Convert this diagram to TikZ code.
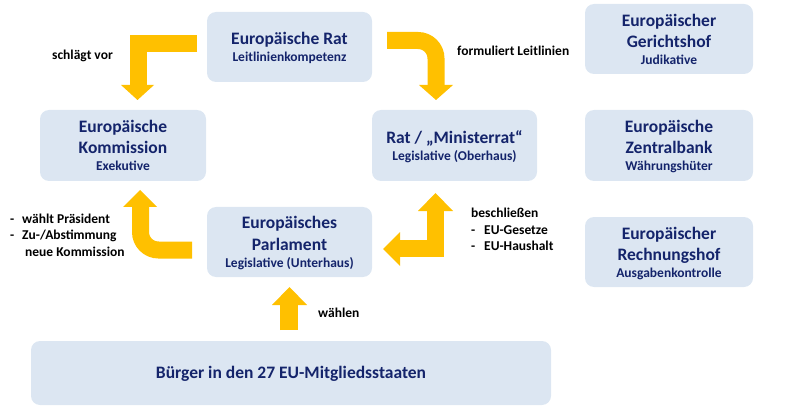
\documentclass[tikz,border=0pt]{standalone}
\usepackage{fontspec}
\setmainfont{Carlito}
\definecolor{boxfill}{HTML}{DCE6F2}
\definecolor{navy}{HTML}{14246B}
\definecolor{arrowc}{HTML}{FFC000}
\tikzset{
  box/.style={fill=boxfill, rounded corners=9pt, inner sep=0pt, draw=none},
  ttl/.style={anchor=base, inner sep=0pt, font=\bfseries\fontsize{17.5}{21}\selectfont, text=navy},
  sub/.style={anchor=base, inner sep=0pt, font=\bfseries\fontsize{13.5}{16}\selectfont, text=navy},
  lbl/.style={anchor=base west, inner sep=0pt, font=\bfseries\fontsize{13.5}{16}\selectfont, text=black},
  shaft/.style={draw=arrowc, line width=17pt, line cap=butt},
  head/.style={fill=arrowc}
}
\begin{document}
\begin{tikzpicture}[x=1pt,y=-1pt]
\useasboundingbox (0,0) rectangle (800,406);
% boxes
\node[box, minimum width=165pt, minimum height=70pt] (rat) at (289.5,47) {};
\node[box, minimum width=166pt, minimum height=71pt] (kom) at (123,145.5) {};
\node[box, minimum width=165pt, minimum height=71pt] (min) at (454.5,145.5) {};
\node[box, minimum width=168pt, minimum height=70pt] (ger) at (669,39) {};
\node[box, minimum width=168pt, minimum height=71pt] (ezb) at (669,145.5) {};
\node[box, minimum width=168pt, minimum height=70pt] (rh) at (669,252) {};
\node[box, minimum width=165pt, minimum height=70pt] (ep) at (289.5,242) {};
\node[box, minimum width=520pt, minimum height=64pt] (bg) at (291,373) {};
% box texts
\node[ttl] (rat1) at (289.5,45) {Europäische Rat};
\node[sub] (rat2) at (289.5,62) {Leitlinienkompetenz};
\node[ttl] (kom1) at (123,132.5) {Europäische};
\node[ttl] (kom2) at (123,154) {Kommission};
\node[sub] (kom3) at (123,171) {Exekutive};
\node[ttl] (min1) at (454.5,143.5) {Rat / „Ministerrat“};
\node[sub] (min2) at (454.5,161) {Legislative (Oberhaus)};
\node[ttl] (ger1) at (669,27) {Europäischer};
\node[ttl] (ger2) at (669,48) {Gerichtshof};
\node[sub] (ger3) at (669,64.5) {Judikative};
\node[ttl] (ezb1) at (669,133) {Europäische};
\node[ttl] (ezb2) at (669,154) {Zentralbank};
\node[sub] (ezb3) at (669,171) {Währungshüter};
\node[ttl] (rh1) at (669,239) {Europäischer};
\node[ttl] (rh2) at (669,260) {Rechnungshof};
\node[sub] (rh3) at (669,277) {Ausgabenkontrolle};
\node[ttl] (ep1) at (289.5,229) {Europäisches};
\node[ttl] (ep2) at (289.5,250.5) {Parlament};
\node[sub] (ep3) at (289.5,267) {Legislative (Unterhaus)};
\node[ttl] (bg1) at (291,378) {Bürger in den 27 EU-Mitgliedsstaaten};
% arrows
\draw[shaft, line join=miter] (197,43.5) -- (138,43.5) -- (138,86);
\fill[head] (121,85) -- (154,85) -- (137.5,100) -- cycle;
\draw[shaft, rounded corners=18pt] (387,40.5) -- (436,40.5) -- (436,86);
\fill[head] (419,85) -- (453,85) -- (436,100) -- cycle;
\draw[shaft, rounded corners=18pt] (192,250) -- (140.5,250) -- (140.5,206);
\fill[head] (123,207) -- (157,207) -- (140,190) -- cycle;
\draw[shaft, line join=miter] (435.5,210) -- (435.5,248.5) -- (399,248.5);
\fill[head] (418,211) -- (453,211) -- (435.5,193) -- cycle;
\fill[head] (400,232) -- (400,266) -- (383,249) -- cycle;
\draw[shaft, line width=18pt] (289,330) -- (289,304);
\fill[head] (272,305) -- (307,305) -- (289.5,287) -- cycle;
% labels
\node[lbl] (l1) at (52,60) {schlägt vor};
\node[lbl] (l2) at (457,56) {formuliert Leitlinien};
\node[lbl] (l3a) at (10,223) {-};
\node[lbl] (l3b) at (22,223) {wählt Präsident};
\node[lbl] (l3c) at (10,239) {-};
\node[lbl] (l3d) at (22,239) {Zu-/Abstimmung};
\node[lbl] (l3e) at (25,256) {neue Kommission};
\node[lbl] (l4a) at (471,218) {beschließen};
\node[lbl] (l4b) at (471,234) {-};
\node[lbl] (l4c) at (484,234) {EU-Gesetze};
\node[lbl] (l4d) at (471,250.5) {-};
\node[lbl] (l4e) at (484,250.5) {EU-Haushalt};
\node[lbl] (l5) at (318,317) {wählen};
\end{tikzpicture}
\end{document}
